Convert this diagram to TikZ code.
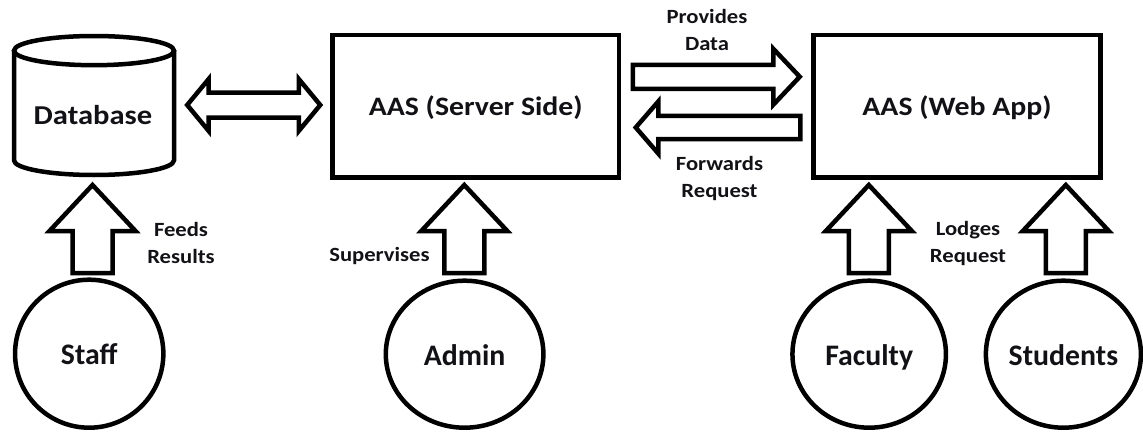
\documentclass[tikz,border=0pt]{standalone}
\usepackage{fontspec}
\setmainfont{Carlito}
\newfontfamily\widefont{Carlito}[FakeStretch=1.12]
\usetikzlibrary{calc,shapes.geometric}
\definecolor{ink}{RGB}{18,18,22}
\tikzset{
  outline/.style={draw=black, line width=4.5pt},
  barrow/.style={draw=black, fill=white, line width=4.5pt, line join=miter, miter limit=10},
  boxnode/.style={outline, rectangle, minimum width=#1, minimum height=142.5pt, inner sep=0pt,
     font=\widefont\bfseries\fontsize{26.6}{30}\selectfont, text=ink, text height=18pt, text depth=0pt},
  actor/.style={outline, ellipse, inner sep=0pt, font=\bfseries\fontsize{29.8}{34}\selectfont,
     text=ink, text height=22pt, text depth=0pt},
  lbl/.style={font=\widefont\bfseries\fontsize{20.2}{27.3}\selectfont, text=ink, align=center, inner sep=0pt},
}
\newcommand\rarr[5]{\draw[barrow] let \p1=(#1), \p2=(#2) in
  (\x1,\y1+#3) -- (\x2-#5,\y1+#3) -- (\x2-#5,\y1+#4) -- (\x2,\y1) -- (\x2-#5,\y1-#4) -- (\x2-#5,\y1-#3) -- (\x1,\y1-#3) -- cycle;}
\newcommand\larr[5]{\draw[barrow] let \p1=(#1), \p2=(#2) in
  (\x1,\y1+#3) -- (\x2+#5,\y1+#3) -- (\x2+#5,\y1+#4) -- (\x2,\y1) -- (\x2+#5,\y1-#4) -- (\x2+#5,\y1-#3) -- (\x1,\y1-#3) -- cycle;}
\newcommand\darr[5]{\draw[barrow] let \p1=(#1), \p2=(#2) in
  (\x1,\y1) -- (\x1+#5,\y1+#4) -- (\x1+#5,\y1+#3) -- (\x2-#5,\y1+#3) -- (\x2-#5,\y1+#4) -- (\x2,\y1)
  -- (\x2-#5,\y1-#4) -- (\x2-#5,\y1-#3) -- (\x1+#5,\y1-#3) -- (\x1+#5,\y1-#4) -- cycle;}
\newcommand\uarr[2]{\draw[barrow] let \p1=(#1), \p2=(#2) in
  (\x1-20pt,\y1) -- (\x1-20pt,\y2-46pt) -- (\x1-43pt,\y2-46pt) -- (\x1,\y2) -- (\x1+43pt,\y2-46pt)
  -- (\x1+20pt,\y2-46pt) -- (\x1+20pt,\y1) -- cycle;}
\begin{document}
\begin{tikzpicture}[x=1pt,y=-1pt]
\useasboundingbox (0,0) rectangle (1143,431);
% database cylinder
\node[minimum width=160pt, minimum height=139pt, inner sep=0pt] (db) at (94,105.5) {};
\draw[outline] (14,50.6) -- (14,160.4) arc[start angle=180, end angle=0, x radius=80, y radius=14.6] -- (174,50.6);
\draw[outline] (94,50.6) ellipse[x radius=80, y radius=14.6];
\node[font=\widefont\bfseries\fontsize{27.3}{32}\selectfont, text=ink, anchor=base, inner sep=0pt] (dbtext) at (93,124) {Database};
% boxes
\node[boxnode=286.5pt] (srv) at (475.75,106.25) {AAS (Server Side)};
\node[boxnode=287pt] (web) at (957,106.25) {AAS (Web App)};
% actors
\node[actor, minimum width=148.3pt, minimum height=148pt] (staff) at (89.2,353.7) {Staff};
\node[actor, minimum width=157.6pt, minimum height=147pt] (admin) at (464.6,354.2) {Admin};
\node[actor, minimum width=153.5pt, minimum height=147pt] (faculty) at (869.2,354.2) {Faculty};
\node[actor, minimum width=155pt, minimum height=147pt] (students) at (1063.4,354.2) {Students};
% connector end points
\coordinate (dbR) at ($(db.east)+(13,-0.5)$);
\coordinate (srvL) at ($(srv.west)+(-10,-1.25)$);
\coordinate (srvR1) at ($(srv.east)+(11.5,-29.5)$);
\coordinate (webL1) at ($(web.west)+(-11.5,-29.5)$);
\coordinate (webL2) at ($(web.west)+(-11,21.25)$);
\coordinate (srvR2) at ($(srv.east)+(14.5,21.25)$);
\coordinate (staffUp) at (92.5,273);
\coordinate (dbDown) at (92.5,185);
\coordinate (adminUp) at (464.3,273);
\coordinate (srvDown) at (464.3,185);
\coordinate (facUp) at (868.8,273);
\coordinate (webDown1) at (868.8,185);
\coordinate (stuUp) at (1065.8,273);
\coordinate (webDown2) at (1065.8,185);
% connectors
\darr{dbR}{srvL}{12.5pt}{26pt}{21.5pt}
\rarr{srvR1}{webL1}{12pt}{28pt}{26.5pt}
\larr{webL2}{srvR2}{11.7pt}{26pt}{22.5pt}
\uarr{staffUp}{dbDown}
\uarr{adminUp}{srvDown}
\uarr{facUp}{webDown1}
\uarr{stuUp}{webDown2}
% labels
\node[lbl] (provides) at (707,29.9) {Provides\\Data};
\node[lbl] (forwards) at (719.5,178.6) {Forwards\\Request};
\node[lbl] (feeds) at (181,243.1) {Feeds\\Results};
\node[lbl, anchor=base] (superv) at (379.5,261.4) {Supervises};
\node[lbl] (lodges) at (968,243.5) {Lodges\\Request};
\end{tikzpicture}
\end{document}
